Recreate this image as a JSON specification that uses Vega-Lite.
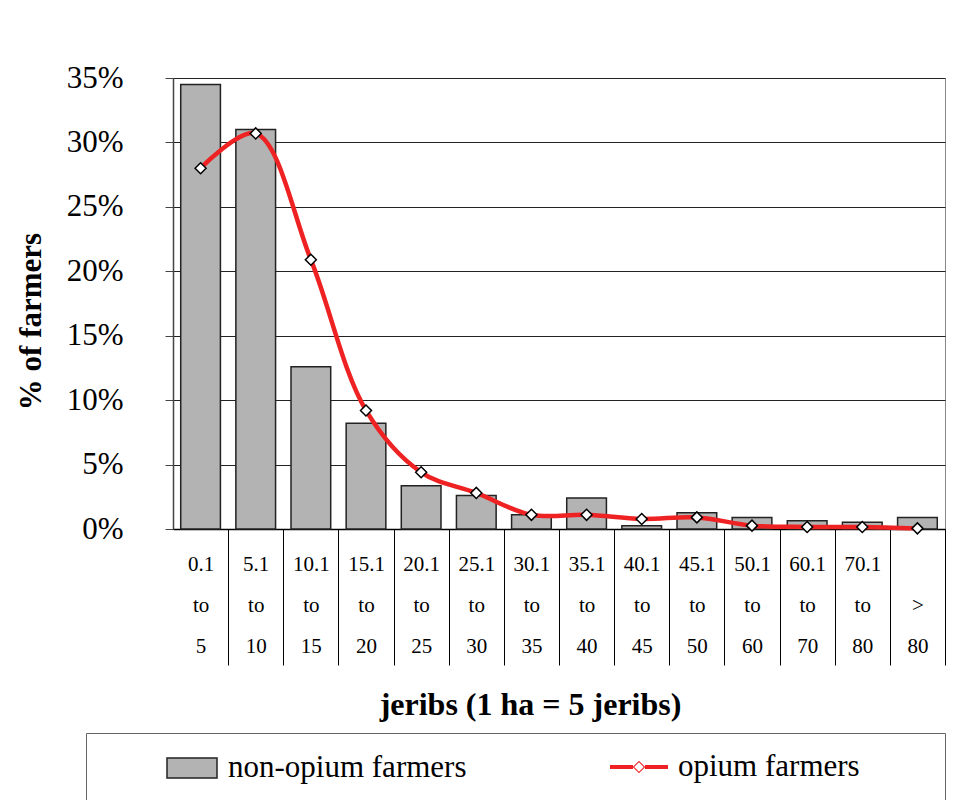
{
  "$schema": "https://vega.github.io/schema/vega-lite/v6.json",
  "width": 772,
  "height": 451,
  "autosize": {"type": "none"},
  "padding": {"left": 173, "top": 78, "right": 16, "bottom": 271},
  "background": "#ffffff",
  "config": {
    "view": {"stroke": "#888888", "strokeWidth": 1},
    "font": "Liberation Serif"
  },
  "data": {
    "values": [
      {"range": "0.1 to 5", "non": 34.5, "opium": 28.0},
      {"range": "5.1 to 10", "non": 31.0, "opium": 30.7},
      {"range": "10.1 to 15", "non": 12.6, "opium": 20.9},
      {"range": "15.1 to 20", "non": 8.2, "opium": 9.2},
      {"range": "20.1 to 25", "non": 3.35, "opium": 4.4},
      {"range": "25.1 to 30", "non": 2.6, "opium": 2.8},
      {"range": "30.1 to 35", "non": 1.1, "opium": 1.1},
      {"range": "35.1 to 40", "non": 2.4, "opium": 1.1},
      {"range": "40.1 to 45", "non": 0.26, "opium": 0.78},
      {"range": "45.1 to 50", "non": 1.26, "opium": 0.9},
      {"range": "50.1 to 60", "non": 0.9, "opium": 0.26},
      {"range": "60.1 to 70", "non": 0.64, "opium": 0.16},
      {"range": "70.1 to 80", "non": 0.52, "opium": 0.16},
      {"range": "> 80", "non": 0.9, "opium": 0.05}
    ]
  },
  "encoding": {
    "x": {
      "field": "range",
      "type": "nominal",
      "sort": null,
      "scale": {"paddingInner": 0, "paddingOuter": 0},
      "axis": {
        "title": "jeribs (1 ha = 5 jeribs)",
        "titleFont": "Liberation Serif",
        "titleFontSize": 32,
        "titleFontWeight": "bold",
        "titleColor": "#000000",
        "titleX": 357,
        "titleY": 185,
        "titleAlign": "center",
        "titleBaseline": "alphabetic",
        "domainColor": "#000000",
        "domainWidth": 1.5,
        "ticks": true,
        "tickColor": "#000000",
        "tickWidth": 1,
        "tickSize": 136,
        "tickBand": "extent",
        "tickOpacity": {"condition": {"test": "datum.extra", "value": 0}, "value": 1},
        "labelAngle": 0,
        "labelFont": "Liberation Serif",
        "labelFontSize": 21,
        "labelColor": "#000000",
        "labelBaseline": "alphabetic",
        "labelLineHeight": 41,
        "labelPadding": -95,
        "labelOverlap": false,
        "labelExpr": "datum.label == '> 80' ? ['', '>', '80'] : split(datum.label, ' ')"
      }
    }
  },
  "layer": [
    {
      "mark": {"type": "bar", "stroke": "#222222", "strokeWidth": 1.5, "width": {"band": 0.72}},
      "encoding": {
        "y": {
          "field": "non",
          "type": "quantitative",
          "scale": {"domain": [0, 35], "nice": false},
          "axis": {
            "title": "% of farmers",
            "titleFont": "Liberation Serif",
            "titleFontSize": 31,
            "titleFontWeight": "bold",
            "titleColor": "#000000",
            "titleX": -142,
            "titleY": 243,
            "titleAlign": "center",
            "titleBaseline": "middle",
            "values": [0, 5, 10, 15, 20, 25, 30, 35],
            "labelExpr": "datum.value + '%'",
            "labelFont": "Liberation Serif",
            "labelFontSize": 31,
            "labelColor": "#000000",
            "labelPadding": 42,
            "tickSize": 8,
            "tickColor": "#444444",
            "domainColor": "#444444",
            "domainWidth": 1.5,
            "grid": true,
            "gridColor": "#222222",
            "gridWidth": 1
          }
        },
        "fill": {
          "datum": "non-opium farmers",
          "type": "nominal",
          "scale": {"range": ["#b3b3b3"]},
          "legend": {
            "title": null,
            "orient": "none",
            "legendX": -7,
            "legendY": 664,
            "padding": 0,
            "symbolType": "M-1,-0.4H1V0.4H-1Z",
            "symbolSize": 2500,
            "symbolOffset": 0,
            "symbolFillColor": "#b3b3b3",
            "symbolStrokeColor": "#222222",
            "symbolStrokeWidth": 1.5,
            "symbolOpacity": 1,
            "labelOffset": 10,
            "labelFont": "Liberation Serif",
            "labelFontSize": 31,
            "labelColor": "#000000",
            "labelLimit": 400
          }
        }
      }
    },
    {
      "mark": {"type": "line", "interpolate": "catmull-rom", "strokeWidth": 4.5},
      "encoding": {
        "y": {"field": "opium", "type": "quantitative"},
        "stroke": {
          "datum": "opium farmers",
          "type": "nominal",
          "scale": {"range": ["#ee2222"]},
          "legend": {
            "title": " ",
            "titleOrient": "right",
            "titleFontSize": 70,
            "titleBaseline": "top",
            "titleAnchor": "start",
            "titlePadding": 76,
            "orient": "none",
            "legendX": -87,
            "legendY": 655,
            "padding": 9,
            "strokeColor": "#666666",
            "symbolType": "M-1.16,-0.08H-0.24V0.08H-1.16Z M0.24,-0.08H1.16V0.08H0.24Z M0,-0.25L0.25,0L0,0.25L-0.25,0Z M0,-0.19L-0.19,0L0,0.19L0.19,0Z",
            "symbolSize": 2500,
            "symbolOffset": 519,
            "symbolFillColor": "#ee2222",
            "symbolStrokeColor": "transparent",
            "symbolStrokeWidth": 0,
            "symbolOpacity": 1,
            "labelOffset": 14,
            "labelFont": "Liberation Serif",
            "labelFontSize": 31,
            "labelColor": "#000000",
            "labelLimit": 400
          }
        }
      }
    },
    {
      "mark": {"type": "point", "shape": "diamond", "filled": true, "fill": "#ffffff", "stroke": "#000000", "strokeWidth": 1.5, "size": 121, "opacity": 1},
      "encoding": {
        "y": {"field": "opium", "type": "quantitative"}
      }
    }
  ]
}
